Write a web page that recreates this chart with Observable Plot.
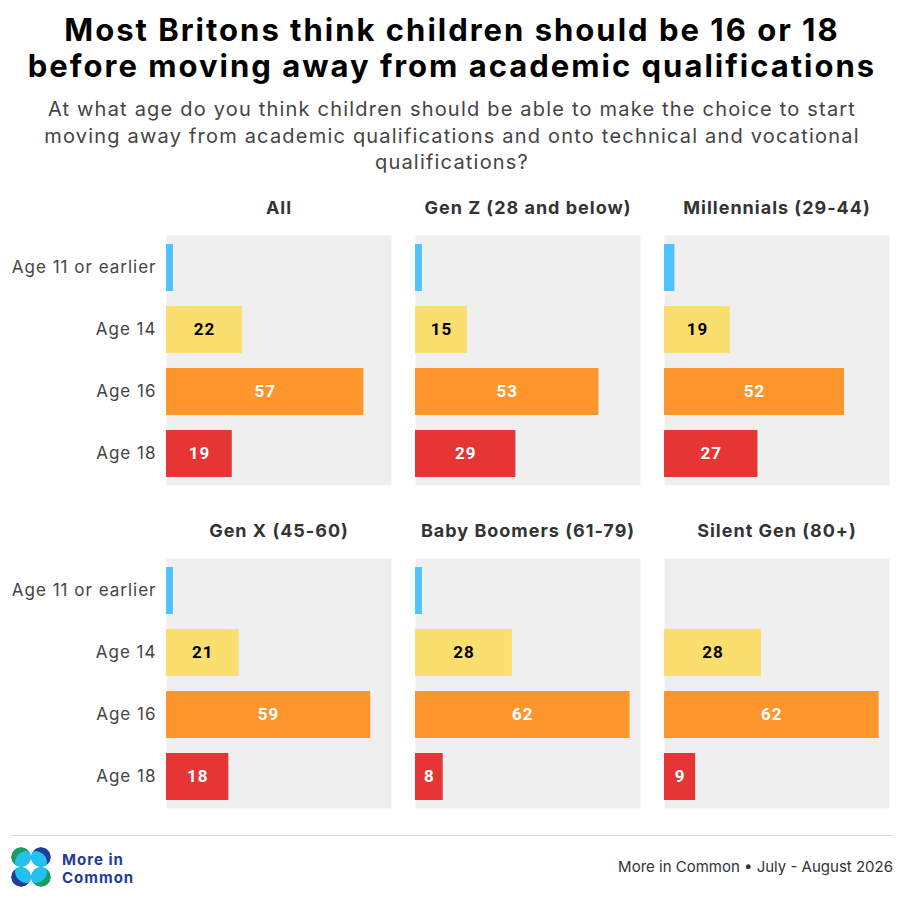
<!DOCTYPE html>
<html>
<head>
<meta charset="utf-8">
<script src="https://cdn.jsdelivr.net/npm/d3@7"></script>
<script src="https://cdn.jsdelivr.net/npm/@observablehq/plot@0.6"></script>
<style>
  html, body { margin: 0; padding: 0; background: #fff; }
  body { width: 904px; height: 902px; overflow: hidden; font-family: Inter, "Noto Sans", sans-serif; }
  #header { height: 180px; position: relative; text-align: center; }
  .tl { position: absolute; left: 0; width: 904px; font-weight: 700; font-size: 31px; line-height: 34px; letter-spacing: 2px; color: #000; white-space: nowrap; }
  .sl { position: absolute; left: 0; width: 904px; font-size: 20px; line-height: 24px; letter-spacing: 1.2px; color: #444; white-space: nowrap; }
  #footer { position: relative; height: 77px; }
  #rule { position: absolute; left: 11px; width: 882px; top: 10px; height: 1px; background: #dcdcdc; }
  #logo { position: absolute; left: 11px; top: 22px; }
  .lt { position: absolute; left: 62px; font-weight: 700; font-size: 15px; line-height: 15px; letter-spacing: 1px; color: #1f3c96; }
  #source { position: absolute; right: 11px; top: 33px; font-size: 15px; line-height: 18px; color: #333; }
  svg { display: block; }
</style>
</head>
<body>
<div id="header">
  <div class="tl" style="top:13px">Most Britons think children should be 16 or 18</div>
  <div class="tl" style="top:49px">before moving away from academic qualifications</div>
  <div class="sl" style="top:97px">At what age do you think children should be able to make the choice to start</div>
  <div class="sl" style="top:124px">moving away from academic qualifications and onto technical and vocational</div>
  <div class="sl" style="top:150px">qualifications?</div>
</div>
<div id="chart"></div>
<div id="footer">
  <div id="rule"></div>
  <svg id="logo" width="40" height="40" viewBox="0 0 40 40">
    <defs>
      <clipPath id="c1"><circle cx="10" cy="10" r="10"/></clipPath>
      <clipPath id="c2"><circle cx="30" cy="10" r="10"/></clipPath>
      <clipPath id="c3"><circle cx="10" cy="30" r="10"/></clipPath>
      <clipPath id="c4"><circle cx="30" cy="30" r="10"/></clipPath>
    </defs>
    <g clip-path="url(#c1)"><circle cx="10" cy="10" r="10" fill="#1a9e5c"/><circle cx="16" cy="16" r="12" fill="#22c1ee"/></g>
    <g clip-path="url(#c2)"><circle cx="30" cy="10" r="10" fill="#1f3f99"/><circle cx="24" cy="16" r="12" fill="#22c1ee"/></g>
    <g clip-path="url(#c3)"><circle cx="10" cy="30" r="10" fill="#1f3f99"/><circle cx="16" cy="24" r="12" fill="#22c1ee"/></g>
    <g clip-path="url(#c4)"><circle cx="30" cy="30" r="10" fill="#1a9e5c"/><circle cx="24" cy="24" r="12" fill="#22c1ee"/></g>
  </svg>
  <div class="lt" style="top:27px">More in</div>
  <div class="lt" style="top:45px">Common</div>
  <div id="source">More in Common • July - August 2026</div>
</div>
<script>
const groups = ["All", "Gen Z (28 and below)", "Millennials (29-44)", "Gen X (45-60)", "Baby Boomers (61-79)", "Silent Gen (80+)"];
const ages = ["Age 11 or earlier", "Age 14", "Age 16", "Age 18"];
const ageColors = ["#4fc3ff", "#fadf6e", "#fe962d", "#e53535"];
const labelColors = ["#000", "#000", "#fff", "#fff"];
const valAll = [2, 22, 57, 19];
const valGenZ = [2, 15, 53, 29];
const valMillennials = [3, 19, 52, 27];
const valGenX = [2, 21, 59, 18];
const valBoomers = [2, 28, 62, 8];
const valSilent = [0, 28, 62, 9];

const series = [valAll, valGenZ, valMillennials, valGenX, valBoomers, valSilent];
const data = [];
series.forEach((vals, gi) => {
  vals.forEach((v, ai) => {
    data.push({group: groups[gi], col: gi % 3, row: Math.floor(gi / 3), age: ages[ai], ai, value: v});
  });
});
const titles = groups.map((g, gi) => ({group: g, col: gi % 3, row: Math.floor(gi / 3)}));

const chart = Plot.plot({
  width: 904,
  height: 645,
  marginLeft: 165,
  marginRight: 15,
  marginTop: 54,
  marginBottom: 16,
  style: {fontFamily: "Inter, sans-serif", background: "transparent", letterSpacing: "1px"},
  x: {domain: [0, 65], axis: null},
  y: {domain: ages, paddingInner: 0.25, paddingOuter: 0.125, label: null},
  fx: {domain: [0, 1, 2], padding: 0.098, axis: null},
  fy: {domain: [0, 1], padding: 0.225, axis: null},
  marks: [
    Plot.frame({fill: "#efefef", stroke: null}),
    Plot.barX(data, {x: "value", y: "age", fx: "col", fy: "row", fill: d => ageColors[d.ai]}),
    Plot.text(data.filter(d => d.ai > 0), {
      x: d => d.value / 2, y: "age", fx: "col", fy: "row", text: d => String(d.value),
      fill: d => labelColors[d.ai], fontFamily: "Roboto, sans-serif", fontWeight: 700, fontSize: 17
    }),
    Plot.text(titles, {
      fx: "col", fy: "row", text: "group", frameAnchor: "top", lineAnchor: "middle", dy: -27,
      fontWeight: 700, fontSize: 18, fill: "#333"
    }),
    Plot.axisY({tickSize: 0, tickPadding: 10, fontSize: 17, color: "#444", label: null})
  ]
});
document.getElementById("chart").appendChild(chart);
</script>
</body>
</html>
